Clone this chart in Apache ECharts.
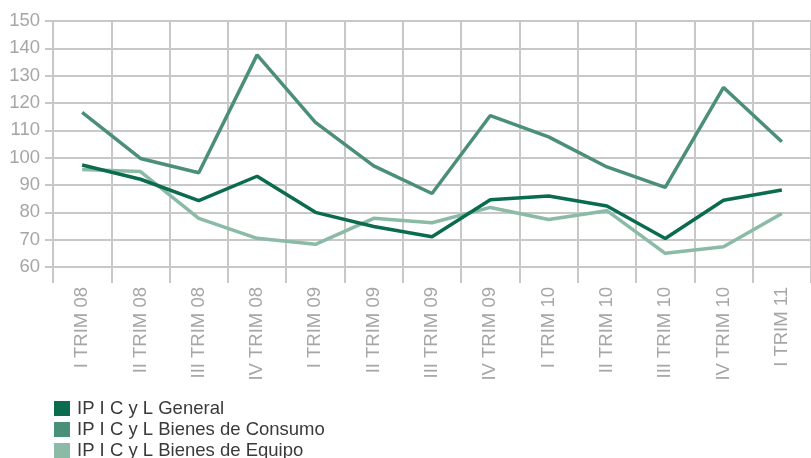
<!DOCTYPE html>
<html>
<head>
<meta charset="utf-8">
<script src="https://cdn.jsdelivr.net/npm/echarts@6/dist/echarts.min.js"></script>
<style>
  html, body { margin: 0; padding: 0; background: #fff; }
  #main { width: 811px; height: 458px; }
</style>
</head>
<body>
<div id="main"></div>
<script>
// 类目
var trimestres = ['I TRIM 08', 'II TRIM 08', 'III TRIM 08', 'IV TRIM 08',
                  'I TRIM 09', 'II TRIM 09', 'III TRIM 09', 'IV TRIM 09',
                  'I TRIM 10', 'II TRIM 10', 'III TRIM 10', 'IV TRIM 10', 'I TRIM 11'];

var general  = [97.3, 92.1, 84.3, 93.2, 80.0, 74.8, 71.1, 84.6, 86.0, 82.3, 70.4, 84.4, 88.2];
var consumo  = [116.6, 99.7, 94.5, 137.6, 112.9, 97.0, 86.9, 115.4, 107.6, 96.6, 89.1, 125.7, 105.8];
var equipo   = [95.7, 94.9, 77.8, 70.5, 68.3, 77.8, 76.2, 81.8, 77.4, 80.6, 65.0, 67.4, 79.6];

var nombres = ['IP I C y L General', 'IP I C y L Bienes de Consumo', 'IP I C y L Bienes de Equipo'];
var colores = ['#0b6b4f', '#4b8f78', '#8bbaa6'];

var gris = '#c8c8c8';
var myChart = echarts.init(document.getElementById('main'));

var option = {
    animation: false,
    textStyle: { fontFamily: 'Liberation Sans, Arial, sans-serif' },
    grid: {
        left: 53,
        right: -9,
        top: 21,
        bottom: 191
    },
    //图例
    legend: {
        orient: 'vertical',
        left: 54,
        top: 399,
        height: 70,
        padding: 0,
        icon: 'rect',
        itemWidth: 16,
        itemHeight: 15,
        itemGap: 2,
        data: nombres,
        textStyle: {
            color: '#3a3a3a',
            fontSize: 18.5,
            padding: [0, 0, 0, 2]
        }
    },
    xAxis: {
        type: 'category',
        boundaryGap: true,
        data: trimestres,
        axisLine: { show: true, lineStyle: { color: gris, width: 2 } },
        axisTick: { show: true, length: 16, interval: 0, lineStyle: { color: gris, width: 2 } },
        splitLine: { show: true, interval: 0, lineStyle: { color: gris, width: 2 } },
        axisLabel: {
            rotate: 90,
            interval: 0,
            margin: 20,
            color: '#a6a6a6',
            fontSize: 18.5
        }
    },
    yAxis: {
        type: 'value',
        min: 60,
        max: 150,
        interval: 10,
        axisLine: { show: true, lineStyle: { color: gris, width: 2 } },
        axisTick: { show: true, length: 8, lineStyle: { color: gris, width: 2 } },
        splitLine: { show: true, lineStyle: { color: gris, width: 2 } },
        axisLabel: {
            margin: 13,
            color: '#a6a6a6',
            fontSize: 18.5
        }
    },
    series: [
        {
            name: nombres[0],
            type: 'line',
            color: colores[0],
            symbol: 'none',
            lineStyle: { width: 3.5 },
            z: 4,
            data: general
        },
        {
            name: nombres[1],
            type: 'line',
            color: colores[1],
            symbol: 'none',
            lineStyle: { width: 3.5 },
            z: 3,
            data: consumo
        },
        {
            name: nombres[2],
            type: 'line',
            color: colores[2],
            symbol: 'none',
            lineStyle: { width: 3.5 },
            z: 2,
            data: equipo
        }
    ]
};

myChart.setOption(option);
</script>
</body>
</html>
